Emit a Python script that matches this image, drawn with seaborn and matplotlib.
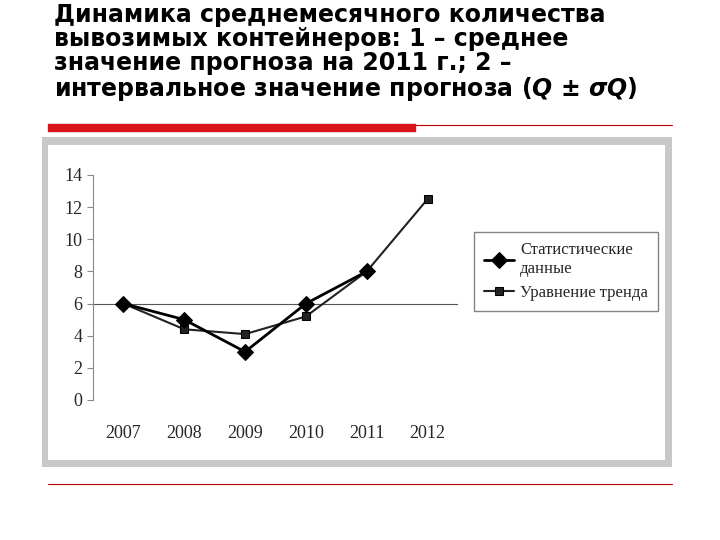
import pandas as pd
import seaborn as sns
import matplotlib.pyplot as plt
from matplotlib.patches import Rectangle

years = ['2007', '2008', '2009', '2010', '2011', '2012']
stat_years = ['2007', '2008', '2009', '2010', '2011']
stat_values = [6, 5, 3, 6, 8]
trend_values = [6, 4.4, 4.1, 5.2, 8.0, 12.5]

sns.set_style('white')
plt.rcParams['font.family'] = ['DejaVu Sans']

fig = plt.figure(figsize=(7.2, 5.4), dpi=100)

title = ('Динамика среднемесячного количества\n'
         'вывозимых контейнеров: 1 – среднее\n'
         'значение прогноза на 2011 г.; 2 –\n'
         'интервальное значение прогноза ($\\mathbfit{Q}$ ± $\\mathbfit{σQ}$)')
fig.text(0.075, 0.995, title, fontsize=17, fontweight='bold', va='top', ha='left',
         linespacing=1.0, color='black')

# slide decorations
fig.add_artist(plt.Line2D([48/720, 672/720], [1-125/540]*2, color='#c00000', lw=0.8, zorder=-5))
fig.add_artist(Rectangle((48/720, 1-131/540), (415-48)/720, 7/540, color='#d9141b', zorder=-5))
fig.add_artist(plt.Line2D([48/720, 672/720], [1-484/540]*2, color='#c00000', lw=0.8, zorder=-5))
fig.add_artist(Rectangle((42/720, 1-467/540), (672-42)/720, (467-137)/540,
                         facecolor='#c8c8c8', edgecolor='none', zorder=-10))
fig.add_artist(Rectangle((48/720, 1-460/540), (665-48)/720, (460-145)/540,
                         facecolor='white', edgecolor='none', zorder=-9))

ax = fig.add_axes([93/720, 1-400/540, (458-93)/720, (400-175)/540])
ax.patch.set_alpha(0)
df_stat = pd.DataFrame({'year': stat_years, 'value': stat_values})
df_trend = pd.DataFrame({'year': years, 'value': trend_values})
sns.lineplot(data=df_trend, x='year', y='value', ax=ax, color='#222222', lw=1.5,
             marker='s', markersize=6, markeredgecolor='black', label='Уравнение тренда')
sns.lineplot(data=df_stat, x='year', y='value', ax=ax, color='black', lw=2,
             marker='D', markersize=8, markeredgecolor='black', label='Статистические\nданные')
ax.axhline(6, color='#555555', lw=0.8, zorder=0)
ax.set_ylim(0, 14)
ax.set_xlim(-0.5, 5.5)
ax.set_yticks(range(0, 15, 2))
ax.set_xlabel('')
ax.set_ylabel('')
for s in ['top', 'right', 'bottom']:
    ax.spines[s].set_visible(False)
ax.spines['left'].set_color('#888888')
ax.tick_params(axis='y', length=4, left=True, color='#888888')
ax.tick_params(axis='x', length=0, pad=18)
for lab in ax.get_xticklabels() + ax.get_yticklabels():
    lab.set_fontfamily('Liberation Serif')
    lab.set_fontsize(13)
h, l = ax.get_legend_handles_labels()
leg = ax.legend(h[::-1], l[::-1], loc='center left', bbox_to_anchor=(1.02, 0.57),
                frameon=True, fancybox=False, edgecolor='#666666', borderpad=0.6,
                prop={'family': 'Liberation Serif', 'size': 12}, handlelength=1.8,
                handletextpad=0.4)

fig.savefig('out.png', dpi=100)
